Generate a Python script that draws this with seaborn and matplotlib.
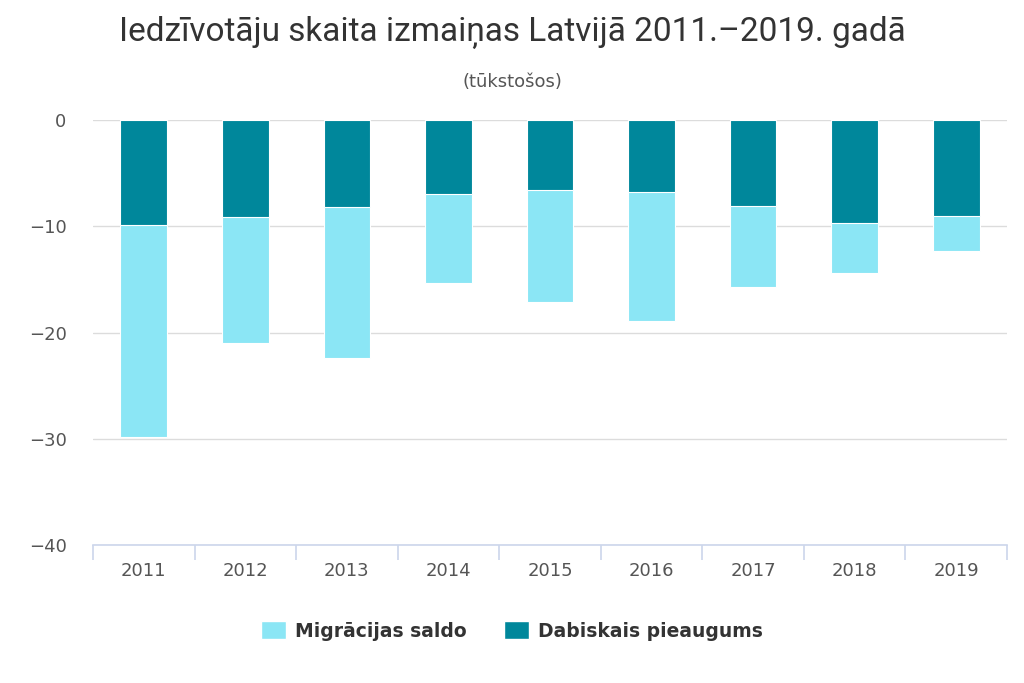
import numpy as np
import pandas as pd
import seaborn as sns
import matplotlib.pyplot as plt
from matplotlib.patches import Patch

years = ['2011', '2012', '2013', '2014', '2015', '2016', '2017', '2018', '2019']
dabiskais = [-9.9, -9.1, -8.2, -7.0, -6.6, -6.8, -8.1, -9.7, -9.0]
migracija = [-19.9, -11.9, -14.2, -8.3, -10.5, -12.1, -7.6, -4.7, -3.3]

df = pd.DataFrame({'year': years, 'dab': dabiskais, 'mig': migracija})
df['total'] = df['dab'] + df['mig']

light = '#8be6f5'
dark = '#00879b'

sns.set_style('white')
plt.rcParams['font.family'] = ['DejaVu Sans']

fig = plt.figure(figsize=(10.24, 6.83), dpi=100)
ax = fig.add_axes([0.0908, 0.202, 0.8926, 0.6222])

# stacked: light total underneath, dark natural increase on top
sns.barplot(data=df, x='year', y='total', color=light, width=0.46,
            saturation=1, ax=ax, edgecolor='white', linewidth=0.8)
sns.barplot(data=df, x='year', y='dab', color=dark, width=0.46,
            saturation=1, ax=ax, edgecolor='white', linewidth=0.8)

ax.set_ylim(-40, 0)
ax.set_xlim(-0.5, 8.5)
ax.set_yticks([0, -10, -20, -30, -40])
ax.yaxis.grid(True, color='#dcdcdc', linewidth=1)
ax.set_axisbelow(True)
ax.set_xlabel('')
ax.set_ylabel('')
for s in ['top', 'right', 'left']:
    ax.spines[s].set_visible(False)
ax.spines['bottom'].set_color('#ccd6eb')
ax.spines['bottom'].set_linewidth(1.2)

ax.tick_params(axis='y', length=0, labelsize=13, labelcolor='#555555', pad=19)
ax.tick_params(axis='x', which='major', bottom=False, labelsize=13,
               labelcolor='#555555', pad=9)
ax.set_xticks(np.arange(-0.5, 9, 1), minor=True)
ax.tick_params(axis='x', which='minor', bottom=True, length=11,
               color='#ccd6eb', width=1.2)

fig.text(0.5, 0.953, 'Iedzīvotāju skaita izmaiņas Latvijā 2011.–2019. gadā',
         ha='center', va='center', fontsize=24, color='#333333',
         family='Roboto')
fig.text(0.5, 0.88, '(tūkstošos)', ha='center', va='center', fontsize=13,
         color='#555555')

handles = [Patch(facecolor=light, label='Migrācijas saldo'),
           Patch(facecolor=dark, label='Dabiskais pieaugums')]
leg = fig.legend(handles=handles, loc='center', bbox_to_anchor=(0.5, 0.076),
                 ncol=2, frameon=False, handlelength=1.3, handleheight=1.1,
                 handletextpad=0.5, columnspacing=2.0,
                 prop={'size': 13.5, 'weight': 'bold'})
for t in leg.get_texts():
    t.set_color('#333333')

plt.savefig('out.png', dpi=100)
